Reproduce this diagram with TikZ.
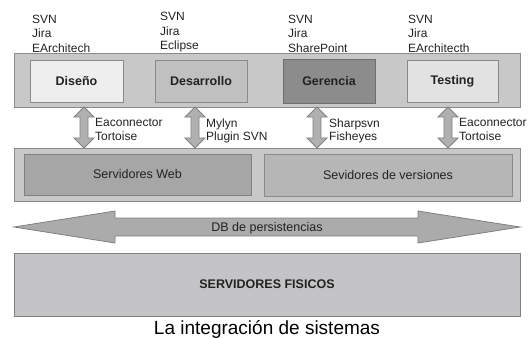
\documentclass[tikz,border=0pt]{standalone}
\usepackage{fontspec}
\setmainfont{Liberation Sans}
\definecolor{bandfill}{HTML}{C8C8C8}
\definecolor{bandline}{HTML}{8A8A8A}
\definecolor{lightfill}{HTML}{EEEEEE}
\definecolor{midfill}{HTML}{C0C0C0}
\definecolor{darkfill}{HTML}{8C8C8C}
\definecolor{darkline}{HTML}{6E6E6E}
\definecolor{testfill}{HTML}{E2E2E2}
\definecolor{webfill}{HTML}{A6A6A6}
\definecolor{verfill}{HTML}{B6B6B6}
\definecolor{arrfill}{HTML}{B0B0B0}
\definecolor{arrline}{HTML}{808080}
\definecolor{bigarrfill}{HTML}{ABABAB}
\definecolor{physfill}{HTML}{C4C4C6}
\definecolor{txt}{HTML}{222222}
\tikzset{
  band/.style={draw=bandline, fill=bandfill, line width=0.9pt, inner sep=0pt},
  layerbox/.style={draw=bandline, line width=0.9pt, inner sep=0pt, text=txt,
    font=\fontsize{12.5}{14}\selectfont},
  boldbox/.style={layerbox, font=\fontsize{12.5}{14}\selectfont\bfseries},
  toollist/.style={anchor=north west, inner sep=0pt, align=left, text=txt,
    font=\fontsize{12}{14.5}\selectfont},
  arrlabel/.style={anchor=north west, inner sep=0pt, align=left, text=txt,
    font=\fontsize{12}{13.5}\selectfont},
  blockarr/.style={draw=arrline, fill=arrfill, line width=0.8pt, line join=miter},
}
% rectangle node from corner (x1,y1) to (x2,y2)
\newcommand\rectnode[7]{%
  \node[#1, minimum width={#5-#3}, minimum height={#6-#4}] (#2)
    at ({(#3+#5)/2},{(#4+#6)/2}) {#7};}
\newcommand\vdarr[1]{%
  \draw[blockarr] (#1,107) -- (#1+10,117) -- (#1+4,117) -- (#1+4,138) -- (#1+10,138)
    -- (#1,148) -- (#1-10,138) -- (#1-4,138) -- (#1-4,117) -- (#1-10,117) -- cycle;}
\begin{document}
\begin{tikzpicture}[x=1pt,y=-1pt]
\useasboundingbox (0,0) rectangle (532,338);
% top band
\rectnode{band}{top}{14}{53}{520}{107}{}
\rectnode{boldbox, fill=lightfill}{dis}{30}{60}{123}{102}{Diseño}
\rectnode{boldbox, fill=midfill}{des}{155}{60}{247}{102}{Desarrollo}
\rectnode{boldbox, draw=darkline, fill=darkfill}{ger}{283}{59}{375}{103}{Gerencia}
\rectnode{boldbox, fill=testfill}{tes}{407}{60}{498}{102}{Testing}
% tool lists
\node[toollist] (tdis) at (32,14.5) {SVN\\Jira\\EArchitech};
\node[toollist] (tdes) at (160,12) {SVN\\Jira\\Eclipse};
\node[toollist] (tger) at (288,14.5) {SVN\\Jira\\SharePoint};
\node[toollist] (ttes) at (408,14.5) {SVN\\Jira\\EArchitecth};
% middle band
\rectnode{band}{mid}{14}{148}{520}{201}{}
\rectnode{layerbox, draw=arrline, fill=webfill}{web}{24}{154}{251}{195}{Servidores Web}
\rectnode{layerbox, fill=verfill}{ver}{264}{154}{512}{196}{Sevidores de versiones}
% vertical double arrows
\vdarr{84}
\vdarr{195}
\vdarr{317}
\vdarr{448}
\node[arrlabel] (l1) at (95,118.5) {Eaconnector\\Tortoise};
\node[arrlabel] (l2) at (206,118.5) {Mylyn\\Plugin SVN};
\node[arrlabel] (l3) at (329,118.5) {Sharpsvn\\Fisheyes};
\node[arrlabel] (l4) at (459,118.5) {Eaconnector\\Tortoise};
% big horizontal double arrow
\draw[blockarr, fill=bigarrfill] (14,227) -- (115,211) -- (115,218) -- (418,218) -- (418,211)
  -- (520,227) -- (418,243) -- (418,236) -- (115,236) -- (115,243) -- cycle;
\node[inner sep=0pt, text=txt, font=\fontsize{12.5}{14}\selectfont] (db) at (267,228.5) {DB de persistencias};
% bottom band
\rectnode{boldbox, fill=physfill, draw=arrline}{phys}{14}{253}{520}{316}{SERVIDORES FISICOS}
% caption
\node[anchor=base, inner sep=0pt, font=\fontsize{19}{22}\selectfont] (cap) at (267,334.5) {La integración de sistemas};
\end{tikzpicture}
\end{document}
